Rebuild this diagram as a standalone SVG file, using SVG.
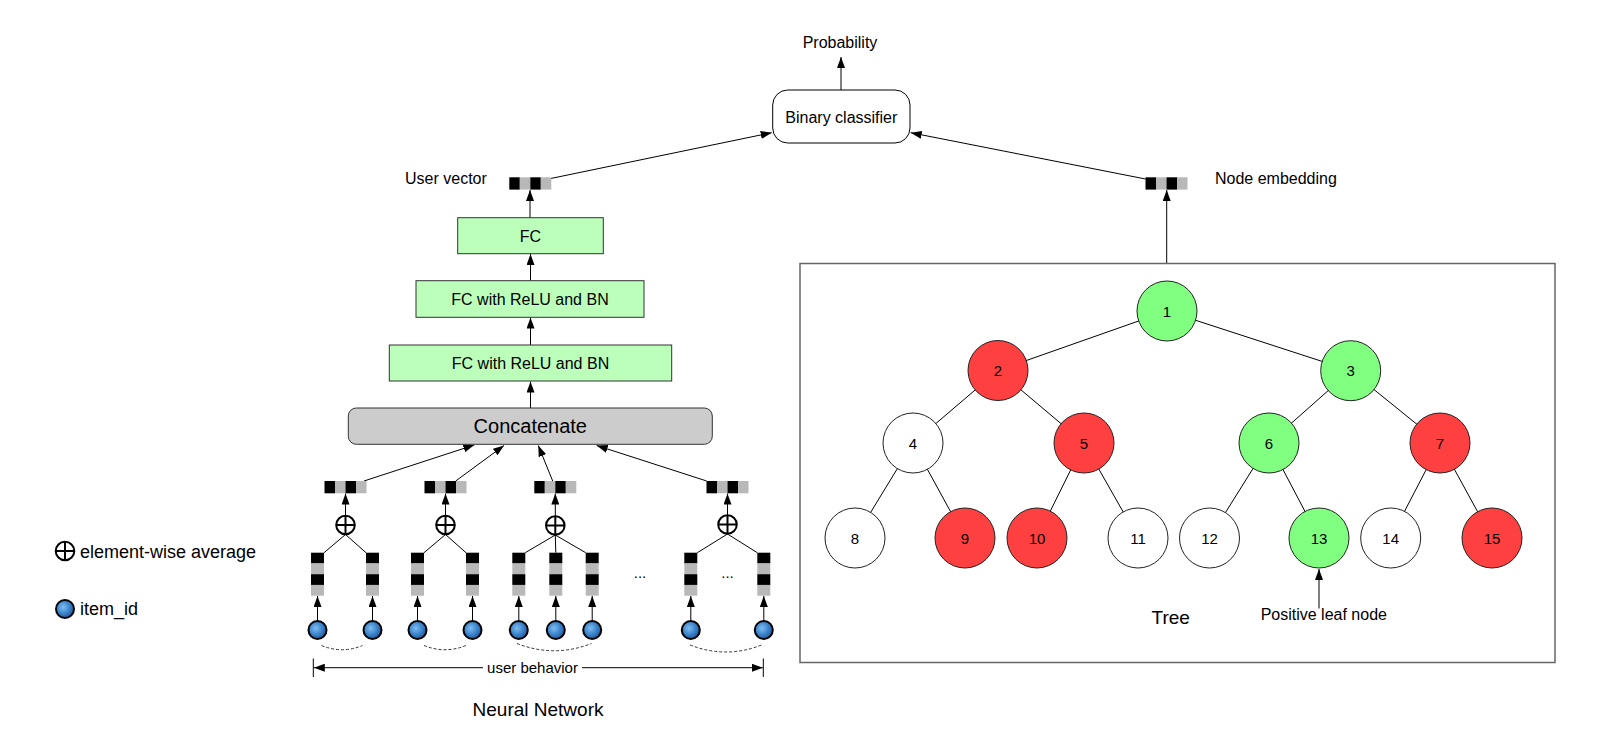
<svg xmlns="http://www.w3.org/2000/svg" xmlns:xlink="http://www.w3.org/1999/xlink" width="1613" height="748" viewBox="0 0 1613 748">
<style>
text{font-family:"Liberation Sans",Arial,Helvetica,sans-serif;fill:#000}
.lbl{font-size:16px}
.mid{text-anchor:middle}
.ln{stroke:#000;stroke-width:1;fill:none}
.arr{stroke:#000;stroke-width:1;fill:none;marker-end:url(#ah)}
.fc{fill:#bbffbb;stroke:#333;stroke-width:1}
.tn{stroke:#222;stroke-width:1}
.g{fill:#80ff80}
.r{fill:#ff4040}
.w{fill:#fff}
.nt{font-size:15px;text-anchor:middle}
.dash{stroke:#333;stroke-width:1;fill:none;stroke-dasharray:3 2}
.item{fill:url(#blue);stroke:#000;stroke-width:2}
</style>
<defs>
<marker id="ah" markerUnits="userSpaceOnUse" markerWidth="11" markerHeight="8" refX="11" refY="4" orient="auto">
<path d="M0,0 L11,4 L0,8 z" fill="#000"/>
</marker>
<radialGradient id="blue" cx="40%" cy="40%" r="65%">
<stop offset="0" stop-color="#7fbdf0"/>
<stop offset="0.55" stop-color="#3b84cc"/>
<stop offset="1" stop-color="#1d5796"/>
</radialGradient>
<g id="hvec">
<rect x="0" y="0" width="10.5" height="12.3" fill="#000"/>
<rect x="10.5" y="0" width="10.5" height="12.3" fill="#b8b8b8"/>
<rect x="21" y="0" width="10.5" height="12.3" fill="#000"/>
<rect x="31.5" y="0" width="10.5" height="12.3" fill="#b8b8b8"/>
</g>
<g id="vvec">
<rect x="0" y="0" width="13" height="10.75" fill="#000"/>
<rect x="0" y="10.75" width="13" height="10.75" fill="#b8b8b8"/>
<rect x="0" y="21.5" width="13" height="10.75" fill="#000"/>
<rect x="0" y="32.25" width="13" height="10.75" fill="#b8b8b8"/>
</g>
<g id="oplus">
<circle cx="0" cy="0" r="9.3" fill="#fff" stroke="#000" stroke-width="2"/>
<line x1="-9.3" y1="0" x2="9.3" y2="0" stroke="#000" stroke-width="2"/>
<line x1="0" y1="-9.3" x2="0" y2="9.3" stroke="#000" stroke-width="2"/>
</g>
</defs>
<rect width="1613" height="748" fill="#fff"/>

<!-- connectors -->
<g id="connectors">
<line class="arr" x1="841" y1="90" x2="841" y2="57"/>
<line class="arr" x1="550.7" y1="178.5" x2="771.7" y2="132.7"/>
<line class="arr" x1="1145.5" y1="179" x2="910.7" y2="132.7"/>
<line class="arr" x1="530" y1="217.7" x2="530" y2="190"/>
<line class="arr" x1="530.5" y1="280.7" x2="530.5" y2="254"/>
<line class="arr" x1="530.5" y1="345" x2="530.5" y2="317.5"/>
<line class="arr" x1="530.5" y1="408" x2="530.5" y2="381.5"/>
<line class="arr" x1="364" y1="481" x2="474.3" y2="445"/>
<line class="arr" x1="455.7" y1="481" x2="504" y2="445.5"/>
<line class="arr" x1="552.7" y1="481" x2="538.3" y2="445.5"/>
<line class="arr" x1="706.7" y1="481" x2="596.7" y2="445.5"/>
<line class="arr" x1="1166.7" y1="263.5" x2="1166.7" y2="190"/>
<!-- oplus to vectors -->
<line class="arr" x1="345.5" y1="515.5" x2="345.5" y2="493.5"/>
<line class="arr" x1="445.5" y1="515.5" x2="445.5" y2="493.5"/>
<line class="arr" x1="555.3" y1="516" x2="555.3" y2="493.5"/>
<line class="arr" x1="727.5" y1="515" x2="727.5" y2="493.5"/>
<!-- oplus branches -->
<line class="ln" x1="345.5" y1="534.5" x2="324" y2="552.7"/>
<line class="ln" x1="345.5" y1="534.5" x2="366" y2="552.7"/>
<line class="ln" x1="445.5" y1="534.5" x2="424" y2="552.7"/>
<line class="ln" x1="445.5" y1="534.5" x2="466" y2="552.7"/>
<line class="ln" x1="555.3" y1="535" x2="525.3" y2="552.7"/>
<line class="ln" x1="555.3" y1="535" x2="555.8" y2="552.7"/>
<line class="ln" x1="555.3" y1="535" x2="585.7" y2="552.7"/>
<line class="ln" x1="727.5" y1="534" x2="697.3" y2="552.7"/>
<line class="ln" x1="727.5" y1="534" x2="757.3" y2="552.7"/>
<!-- item to embedding -->
<line class="arr" x1="317.5" y1="620.5" x2="317.5" y2="596"/>
<line class="arr" x1="372.5" y1="620.5" x2="372.5" y2="596"/>
<line class="arr" x1="417.5" y1="620.5" x2="417.5" y2="596"/>
<line class="arr" x1="472.5" y1="620.5" x2="472.5" y2="596"/>
<line class="arr" x1="518.8" y1="620.5" x2="518.8" y2="596"/>
<line class="arr" x1="555.8" y1="620.5" x2="555.8" y2="596"/>
<line class="arr" x1="592.2" y1="620.5" x2="592.2" y2="596"/>
<line class="arr" x1="690.8" y1="620.5" x2="690.8" y2="596"/>
<line class="arr" x1="763.8" y1="620.5" x2="763.8" y2="596"/>
<!-- dashed sequence arcs -->
<path class="dash" d="M321.5,645.5 Q342,654 362.5,645.5"/>
<path class="dash" d="M424,645.5 Q445,654 466,645.5"/>
<path class="dash" d="M517,643.5 Q554,658 591.5,643.5"/>
<path class="dash" d="M690,645 Q726,659 761.5,645"/>
<!-- user behavior dimension -->
<line class="ln" x1="313.3" y1="658.5" x2="313.3" y2="677"/>
<line class="ln" x1="763.3" y1="658.5" x2="763.3" y2="677"/>
<line class="arr" x1="483" y1="667.7" x2="313.8" y2="667.7"/>
<line class="arr" x1="582" y1="667.7" x2="762.8" y2="667.7"/>
<!-- positive leaf arrow -->
<line class="arr" x1="1319" y1="608.5" x2="1319" y2="569"/>
<!-- tree edges -->
<line class="ln" x1="1167" y1="311" x2="998" y2="370.5"/>
<line class="ln" x1="1167" y1="311" x2="1350.7" y2="370.7"/>
<line class="ln" x1="998" y1="370.5" x2="913" y2="443"/>
<line class="ln" x1="998" y1="370.5" x2="1084" y2="443"/>
<line class="ln" x1="1350.7" y1="370.7" x2="1269" y2="443"/>
<line class="ln" x1="1350.7" y1="370.7" x2="1440" y2="443"/>
<line class="ln" x1="913" y1="443" x2="855" y2="538"/>
<line class="ln" x1="913" y1="443" x2="965" y2="538"/>
<line class="ln" x1="1084" y1="443" x2="1037" y2="538"/>
<line class="ln" x1="1084" y1="443" x2="1138" y2="538"/>
<line class="ln" x1="1269" y1="443" x2="1209.5" y2="538"/>
<line class="ln" x1="1269" y1="443" x2="1319" y2="538"/>
<line class="ln" x1="1440" y1="443" x2="1390.7" y2="538"/>
<line class="ln" x1="1440" y1="443" x2="1492" y2="538"/>
</g>

<text class="lbl mid" x="840" y="48">Probability</text>

<g id="binary-classifier">
<rect x="772.7" y="90" width="137.3" height="53" rx="15" ry="15" fill="#fff" stroke="#000" stroke-width="1"/>
<text class="lbl mid" x="841.3" y="122.5">Binary classifier</text>
</g>

<g id="user-vector">
<use xlink:href="#hvec" x="509.3" y="177.3"/>
<text class="lbl" x="405" y="184">User vector</text>
</g>

<g id="node-embedding">
<use xlink:href="#hvec" x="1145.5" y="177.3"/>
<text class="lbl" x="1215" y="183.5">Node embedding</text>
</g>

<g id="fc">
<rect class="fc" x="457.7" y="217.7" width="145.6" height="36"/>
<text class="lbl mid" x="530.5" y="241.5">FC</text>
</g>

<g id="fc-relu-bn-2">
<rect class="fc" x="416" y="280.7" width="228" height="36.6"/>
<text class="lbl mid" x="530" y="304.5">FC with ReLU and BN</text>
</g>

<g id="fc-relu-bn-1">
<rect class="fc" x="389.3" y="345" width="282.4" height="36"/>
<text class="lbl mid" x="530.5" y="368.5">FC with ReLU and BN</text>
</g>

<g id="concatenate">
<rect x="348.3" y="408" width="364" height="36.3" rx="8" ry="8" fill="#cccccc" stroke="#333" stroke-width="1"/>
<text class="mid" x="530.3" y="433" font-size="20">Concatenate</text>
</g>

<g id="pooled-vectors">
<use xlink:href="#hvec" x="324.5" y="481"/>
<use xlink:href="#hvec" x="424.5" y="481"/>
<use xlink:href="#hvec" x="534.3" y="481"/>
<use xlink:href="#hvec" x="706.5" y="481"/>
</g>

<g id="averages">
<use xlink:href="#oplus" x="345.5" y="525"/>
<use xlink:href="#oplus" x="445.5" y="525"/>
<use xlink:href="#oplus" x="555.3" y="525.5"/>
<use xlink:href="#oplus" x="727.5" y="524.5"/>
</g>

<g id="item-embeddings">
<use xlink:href="#vvec" x="311" y="552.7"/>
<use xlink:href="#vvec" x="366" y="552.7"/>
<use xlink:href="#vvec" x="411" y="552.7"/>
<use xlink:href="#vvec" x="466" y="552.7"/>
<use xlink:href="#vvec" x="512.3" y="552.7"/>
<use xlink:href="#vvec" x="549.3" y="552.7"/>
<use xlink:href="#vvec" x="585.7" y="552.7"/>
<use xlink:href="#vvec" x="684.3" y="552.7"/>
<use xlink:href="#vvec" x="757.3" y="552.7"/>
<text class="mid" x="640" y="578" font-size="15" fill="#223366">...</text>
<text class="mid" x="727.5" y="578" font-size="15" fill="#223366">...</text>
</g>

<g id="items">
<circle class="item" cx="317.5" cy="630" r="9"/>
<circle class="item" cx="372.5" cy="630" r="9"/>
<circle class="item" cx="417.5" cy="630" r="9"/>
<circle class="item" cx="472.5" cy="630" r="9"/>
<circle class="item" cx="518.8" cy="630" r="9"/>
<circle class="item" cx="555.8" cy="630" r="9"/>
<circle class="item" cx="592.2" cy="630" r="9"/>
<circle class="item" cx="690.8" cy="630" r="9"/>
<circle class="item" cx="763.8" cy="630" r="9"/>
</g>

<text class="mid" x="532.5" y="673" font-size="15">user behavior</text>
<text class="mid" x="538" y="716" font-size="19">Neural Network</text>

<g id="legend">
<use xlink:href="#oplus" x="65" y="551"/>
<text x="80" y="557.7" font-size="18">element-wise average</text>
<circle class="item" cx="65" cy="609" r="9"/>
<text x="80" y="615" font-size="18">item_id</text>
</g>

<g id="tree-box">
<rect x="800" y="263.5" width="755" height="399" fill="none" stroke="#666" stroke-width="1.5"/>
</g>

<g id="tree-nodes">
<g id="n1"><circle class="tn g" cx="1167" cy="311" r="30"/><text class="nt" x="1167" y="316.5">1</text></g>
<g id="n2"><circle class="tn r" cx="998" cy="370.5" r="30"/><text class="nt" x="998" y="376">2</text></g>
<g id="n3"><circle class="tn g" cx="1350.7" cy="370.7" r="30"/><text class="nt" x="1350.7" y="376.2">3</text></g>
<g id="n4"><circle class="tn w" cx="913" cy="443" r="30"/><text class="nt" x="913" y="448.5">4</text></g>
<g id="n5"><circle class="tn r" cx="1084" cy="443" r="30"/><text class="nt" x="1084" y="448.5">5</text></g>
<g id="n6"><circle class="tn g" cx="1269" cy="443" r="30"/><text class="nt" x="1269" y="448.5">6</text></g>
<g id="n7"><circle class="tn r" cx="1440" cy="443" r="30"/><text class="nt" x="1440" y="448.5">7</text></g>
<g id="n8"><circle class="tn w" cx="855" cy="538" r="30"/><text class="nt" x="855" y="543.5">8</text></g>
<g id="n9"><circle class="tn r" cx="965" cy="538" r="30"/><text class="nt" x="965" y="543.5">9</text></g>
<g id="n10"><circle class="tn r" cx="1037" cy="538" r="30"/><text class="nt" x="1037" y="543.5">10</text></g>
<g id="n11"><circle class="tn w" cx="1138" cy="538" r="30"/><text class="nt" x="1138" y="543.5">11</text></g>
<g id="n12"><circle class="tn w" cx="1209.5" cy="538" r="30"/><text class="nt" x="1209.5" y="543.5">12</text></g>
<g id="n13"><circle class="tn g" cx="1319" cy="538" r="30"/><text class="nt" x="1319" y="543.5">13</text></g>
<g id="n14"><circle class="tn w" cx="1390.7" cy="538" r="30"/><text class="nt" x="1390.7" y="543.5">14</text></g>
<g id="n15"><circle class="tn r" cx="1492" cy="538" r="30"/><text class="nt" x="1492" y="543.5">15</text></g>
</g>

<text x="1151.5" y="624" font-size="19">Tree</text>
<text class="lbl mid" x="1323.8" y="620">Positive leaf node</text>
</svg>
